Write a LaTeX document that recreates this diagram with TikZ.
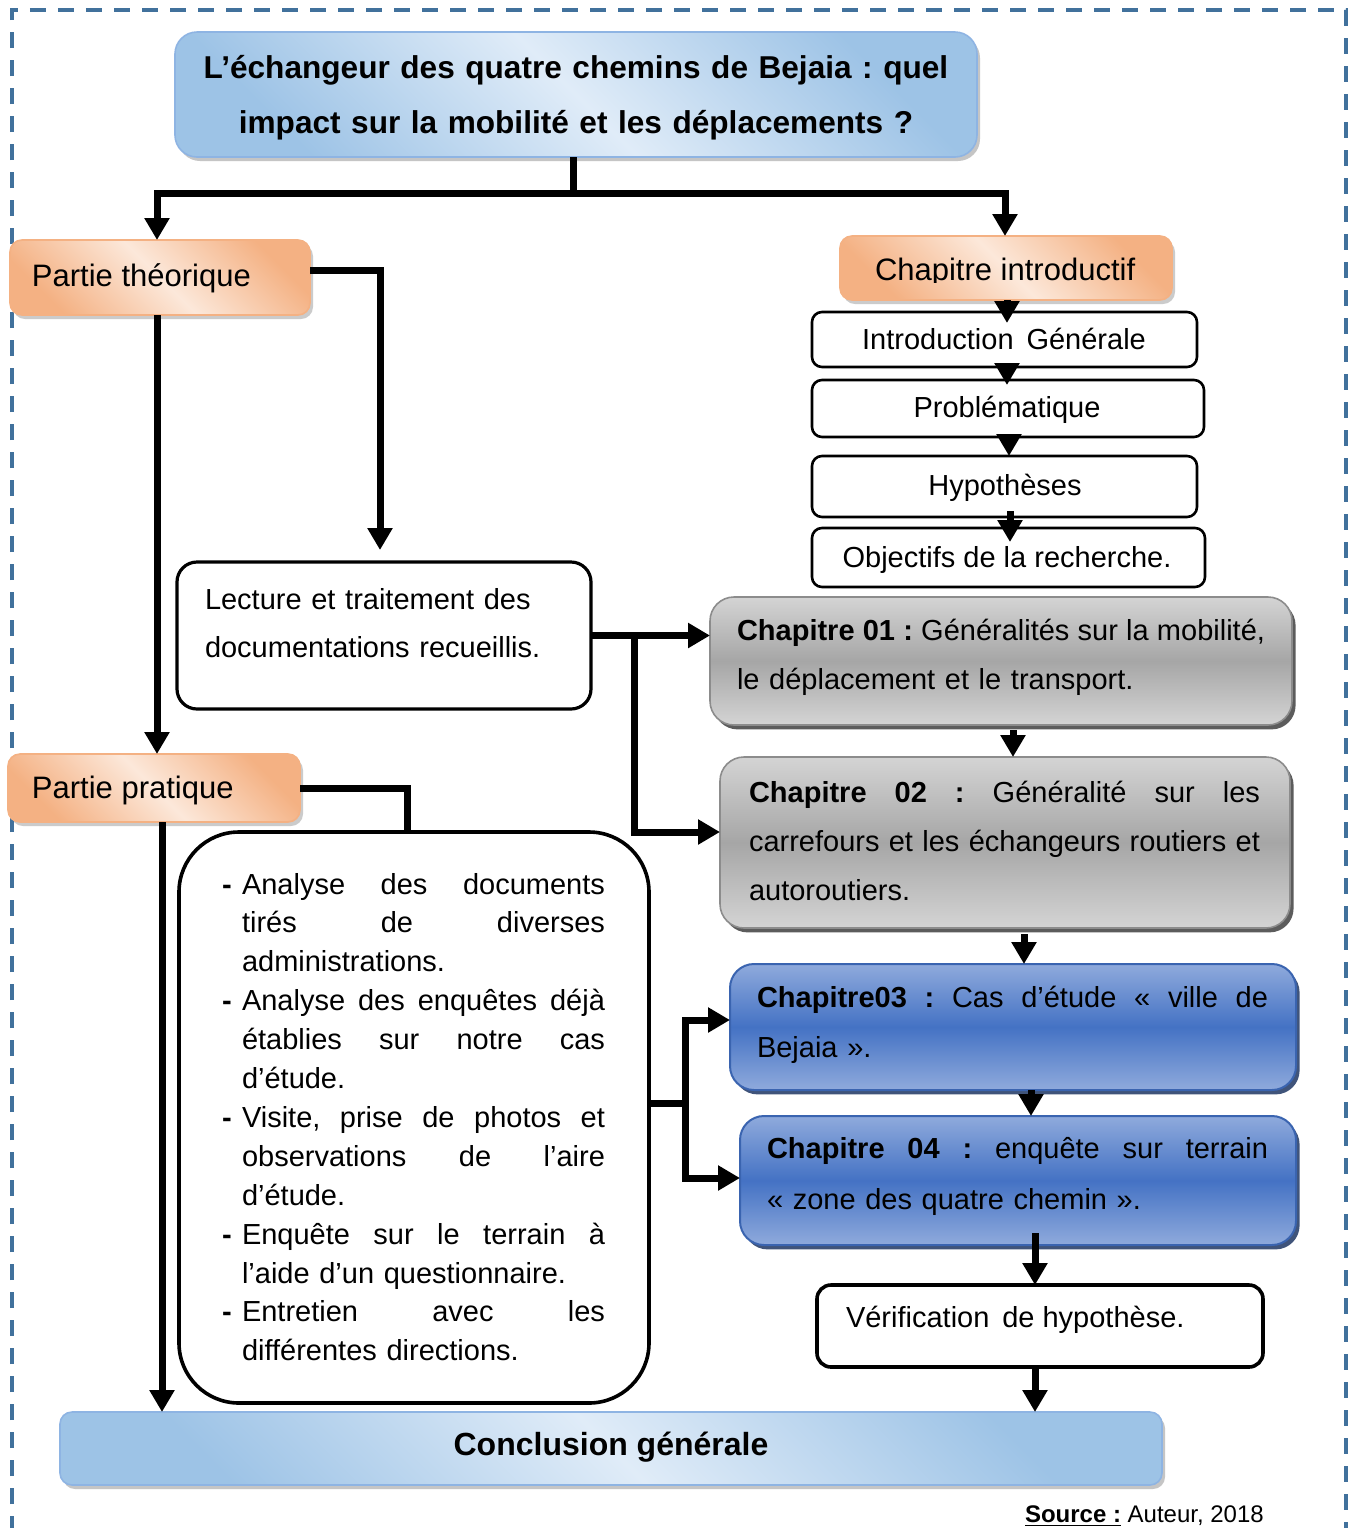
\documentclass[tikz,border=0pt]{standalone}
\usepackage{fontspec}
\setmainfont{Liberation Sans}
\usetikzlibrary{arrows.meta,shadows,calc}
\frenchspacing
\definecolor{bordercol}{HTML}{41719C}
\definecolor{bluedark}{HTML}{9DC3E6}
\definecolor{bluelight}{HTML}{E0ECF8}
\definecolor{blueline}{HTML}{8EB4E3}
\definecolor{ordark}{HTML}{F4B183}
\definecolor{orlight}{HTML}{FCE8DA}
\definecolor{orline}{HTML}{F4B183}
\definecolor{greylight}{HTML}{D4D4D4}
\definecolor{greydark}{HTML}{A6A6A6}
\definecolor{greyline}{HTML}{8C8C8C}
\definecolor{chblight}{HTML}{8FAADC}
\definecolor{chbdark}{HTML}{4472C4}
\definecolor{chbline}{HTML}{3A64B0}
\definecolor{chbshadow}{HTML}{1F3763}
\newcommand\placebox[6]{\node[#2, minimum width={(#5-#3)*0.5pt}, minimum height={(#6-#4)*0.5pt}] (#1) at (#3,#4) {};}
\newcommand\jst[2]{\leavevmode\hbox to #1{\spaceskip=0.278em plus 1fil minus 0.12em\relax\xspaceskip=\spaceskip #2}}
\newcommand\dashitem{\leavevmode\makebox[10pt][l]{\textbf{-}}}
\newcommand\indnt{\leavevmode\hspace*{10pt}}
\tikzset{
  shp/.style={anchor=north west, inner sep=0pt, outer sep=0pt},
  diagblue/.style={shp, rounded corners=11pt, draw=blueline, line width=0.8pt,
    top color=bluedark, bottom color=bluedark, middle color=bluelight, shading angle=-45,
    drop shadow={shadow xshift=1.5pt, shadow yshift=-2pt, opacity=0.5, fill=black!45}},
  diagorange/.style={shp, rounded corners=6pt, draw=orline, line width=0.8pt,
    top color=ordark, bottom color=ordark, middle color=orlight, shading angle=-45,
    drop shadow={shadow xshift=1.5pt, shadow yshift=-2pt, opacity=0.45, fill=black!45}},
  greybox/.style={shp, rounded corners=12pt, draw=greyline, line width=0.8pt,
    top color=greylight, bottom color=greylight, middle color=greydark,
    drop shadow={shadow xshift=1.8pt, shadow yshift=-2.2pt, opacity=0.85, fill=black!75}},
  bluebox/.style={shp, rounded corners=12pt, draw=chbline, line width=1pt,
    top color=chblight, bottom color=chblight, middle color=chbdark,
    drop shadow={shadow xshift=1.8pt, shadow yshift=-2.2pt, opacity=0.85, fill=chbshadow}},
  whitebox/.style={shp, rounded corners=5pt, draw=black, line width=1.3pt, fill=white},
  conn/.style={line width=3.5pt, -{Triangle[length=11pt,width=12pt]}},
  wire/.style={line width=3.5pt},
  txt/.style={inner sep=0pt, outer sep=0pt, anchor=base west, align=left},
  ctxt/.style={inner sep=0pt, outer sep=0pt, anchor=base},
  f16/.style={font=\fontsize{15.5}{20}\selectfont},
  f14/.style={font=\fontsize{14.5}{20}\selectfont},
}
\begin{document}
\begin{tikzpicture}[x=0.5pt, y=-0.5pt]
\useasboundingbox (0,0) rectangle (1354,1528);
\fill[white] (0,0) rectangle (1354,1528);
% dashed frame
\draw[bordercol, line width=2pt, dash pattern=on 8pt off 6pt] (12,1560) -- (12,10) -- (1346,10) -- (1346,1560);

% ---------- boxes ----------
\placebox{title}{diagblue}{175}{32}{977}{157}
\placebox{pt}{diagorange}{10}{240}{310}{315}
\placebox{ci}{diagorange}{840}{236}{1172}{300}
\placebox{intro}{whitebox}{812}{312}{1197}{367}
\placebox{prob}{whitebox}{812}{380}{1204}{437}
\placebox{hyp}{whitebox}{812}{456}{1197}{517}
\placebox{obj}{whitebox}{812}{528}{1205}{587}
\placebox{lect}{whitebox, rounded corners=10pt, line width=1.6pt}{177}{562}{591}{709}
\placebox{c1}{greybox}{710}{597}{1292}{725}
\placebox{pp}{diagorange}{8}{754}{300}{822}
\placebox{c2}{greybox}{720}{757}{1290}{928}
\placebox{list}{whitebox, rounded corners=30pt, line width=1.8pt}{179}{832}{649}{1403}
\placebox{c3}{bluebox}{730}{964}{1296}{1090}
\placebox{c4}{bluebox}{740}{1116}{1296}{1245}
\placebox{verif}{whitebox, rounded corners=7pt, line width=1.8pt}{817}{1285}{1263}{1367}
\placebox{concl}{diagblue, rounded corners=6pt}{60}{1412}{1162}{1485}

% ---------- texts ----------
\node[ctxt, text width=400pt, align=center, font=\bfseries\fontsize{15.8}{27.5}\selectfont] (title-t) at (576,78)
  {L’échangeur des quatre chemins de Bejaia : quel\\impact sur la mobilité et les déplacements ?};
\node[txt, f16] (pt-t) at (32,286) {Partie théorique};
\begin{scope}
  \clip (845,240) rectangle (1170,282);
  \node[txt, f16] (ci-t) at (875,280) {Chapitre introductif};
\end{scope}
\node[ctxt, f14] (intro-t) at (1004,349) {Introduction\, Générale};
\node[ctxt, f14] (prob-t) at (1007,417) {Problématique};
\node[ctxt, f14] (hyp-t) at (1005,495) {Hypothèses};
\node[ctxt, f14] (obj-t) at (1007,567) {Objectifs de la recherche.};
\node[txt, text width=180pt, font=\fontsize{14.5}{24}\selectfont] (lect-t) at (205,609)
  {Lecture et traitement des\\documentations recueillis.};
\node[txt, text width=264pt, font=\fontsize{14.5}{24.5}\selectfont] (c1-t) at (737,640)
  {\jst{264pt}{\textbf{Chapitre 01 :} Généralités sur la mobilité,}\\le déplacement et le transport.};
\node[txt, f16] (pp-t) at (32,798) {Partie pratique};
\node[txt, text width=255.5pt, font=\fontsize{14.5}{24.5}\selectfont] (c2-t) at (749,802)
  {\jst{255.5pt}{\textbf{Chapitre 02 :} Généralité sur les}\\
   \jst{255.5pt}{carrefours et les échangeurs routiers et}\\autoroutiers.};
\node[txt, text width=191.5pt, font=\fontsize{14.5}{19.45}\selectfont] (list-t) at (222,894)
  {\dashitem\jst{181.5pt}{Analyse des documents}\\
   \indnt\jst{181.5pt}{tirés de diverses}\\
   \indnt administrations.\\
   \dashitem\jst{181.5pt}{Analyse des enquêtes déjà}\\
   \indnt\jst{181.5pt}{établies sur notre cas}\\
   \indnt d’étude.\\
   \dashitem\jst{181.5pt}{Visite, prise de photos et}\\
   \indnt\jst{181.5pt}{observations de l’aire}\\
   \indnt d’étude.\\
   \dashitem\jst{181.5pt}{Enquête sur le terrain à}\\
   \indnt l’aide d’un questionnaire.\\
   \dashitem\jst{181.5pt}{Entretien avec les}\\
   \indnt différentes directions.};
\node[txt, text width=255.5pt, font=\fontsize{14.5}{25}\selectfont] (c3-t) at (757,1007)
  {\jst{255.5pt}{\textbf{Chapitre03 :} Cas d’étude « ville de}\\Bejaia ».};
\node[txt, text width=250.5pt, font=\fontsize{14.5}{25.5}\selectfont] (c4-t) at (767,1158)
  {\jst{250.5pt}{\textbf{Chapitre 04 :} enquête sur terrain}\\« zone des quatre chemin ».};
\node[txt, f14] (verif-t) at (846,1327) {Vérification\, de hypothèse.};
\node[ctxt, font=\bfseries\fontsize{16}{20}\selectfont] (concl-t) at (611,1455) {Conclusion générale};
\node[txt, font=\fontsize{12}{14}\selectfont] (src) at (1025,1522) {\textbf{\underline{Source :}} Auteur, 2018};

% ---------- connectors ----------
\coordinate (xA) at (157,0);
\coordinate (xB) at (1005,0);
\coordinate (jT) at (573,193);
\draw[wire] (title.south -| jT) -- (jT);
\draw[conn] (jT) -| (pt.north -| xA);
\draw[conn] (jT) -| (ci.north -| xB);

% theory branch
\coordinate (xL) at (380,0);
\coordinate (ptout) at ($(pt.east)+(0,-7.5)$);
\draw[conn, shorten >=6pt] (ptout) -| (lect.north -| xL);
\draw[conn] (pt.south -| xA) -- (pp.north -| xA);

% reading -> chapters 1,2
\coordinate (xC) at (634,0);
\coordinate (c2in) at ($(c2.west)+(0,-10.5)$);
\draw[conn] (lect.east) -- (lect.east -| c1.west);
\draw[conn] (lect.east -| xC) |- (c2in);

% practice branch
\coordinate (xD) at (407,0);
\coordinate (xE) at (162,0);
\draw[wire] (pp.east) -| (list.north -| xD);
\draw[conn] (pp.south -| xE) -- (concl.north -| xE);

% list -> chapters 3,4
\coordinate (xF) at (685,0);
\coordinate (listout) at ($(list.east)+(0,-14.5)$);
\coordinate (c3in) at ($(c3.west)+(0,-7)$);
\coordinate (c4in) at ($(c4.west)+(0,-2.5)$);
\draw[wire] (listout) -- (listout -| xF);
\draw[conn] (listout -| xF) |- (c3in);
\draw[conn] (listout -| xF) |- (c4in);

% introductory chain
\coordinate (xS1) at (1007,0);
\coordinate (xS2) at (1009,0);
\coordinate (xS3) at (1010,0);
\draw[conn, shorten >=-5.5pt] (ci.south -| xS1) -- (intro.north -| xS1);
\draw[conn, shorten <=-2pt, shorten >=-2.5pt] (intro.south -| xS1) -- (prob.north -| xS1);
\draw[conn, shorten <=-4pt] (prob.south -| xS2) -- (hyp.north -| xS2);
\draw[conn, shorten <=-3pt, shorten >=-7pt] (hyp.south -| xS3) -- (obj.north -| xS3);

% chapter chain
\coordinate (xG) at (1013,0);
\coordinate (xH) at (1024,0);
\coordinate (xI) at (1031,0);
\coordinate (xJ) at (1035,0);
\draw[conn, shorten <=2.5pt] (c1.south -| xG) -- (c2.north -| xG);
\draw[conn, shorten <=3pt] (c2.south -| xH) -- (c3.north -| xH);
\draw[conn] (c3.south -| xI) -- (c4.north -| xI);
\draw[conn, shorten <=-6pt] (c4.south -| xJ) -- (verif.north -| xJ);
\draw[conn] (verif.south -| xJ) -- (concl.north -| xJ);
\end{tikzpicture}
\end{document}
